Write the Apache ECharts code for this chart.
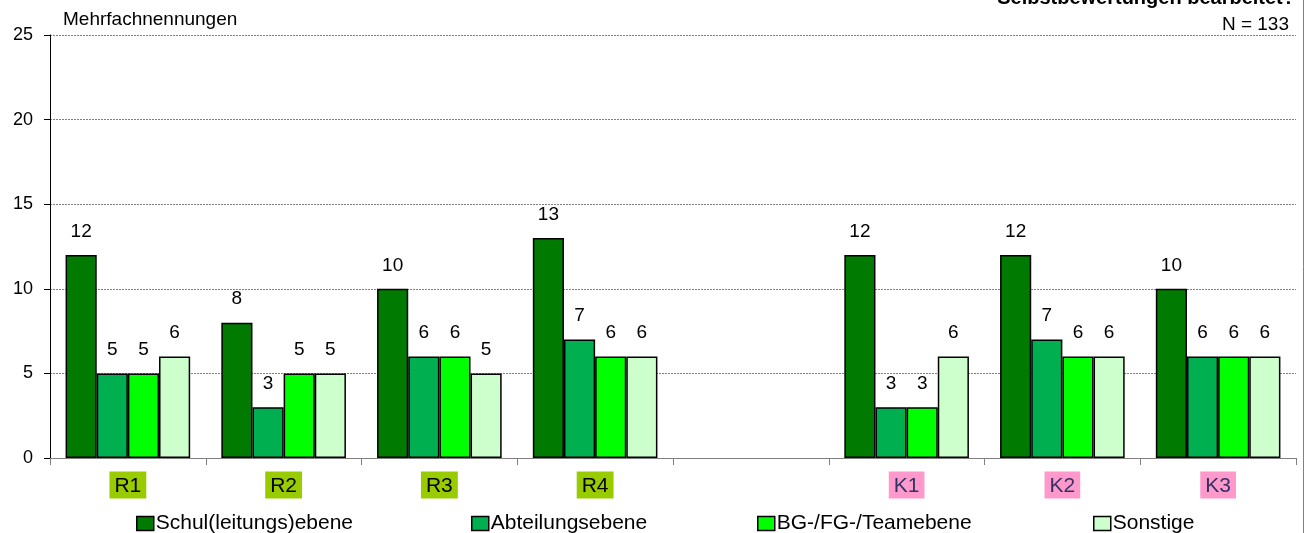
<!DOCTYPE html>
<html>
<head>
<meta charset="utf-8">
<script src="https://cdn.jsdelivr.net/npm/echarts@6/dist/echarts.min.js"></script>
<style>
  html, body { margin: 0; padding: 0; background: #fff; }
  #chart { width: 1305px; height: 533px; }
</style>
</head>
<body>
<div id="chart"></div>
<script>
// Categories along the x axis (one empty slot separates the R and K groups)
const categories = ['R1', 'R2', 'R3', 'R4', '', 'K1', 'K2', 'K3'];

// Number of mentions per level (multiple answers possible)
const schulleitung = [12, 8, 10, 13, null, 12, 12, 10];
const abteilung    = [5, 3, 6, 7, null, 3, 7, 6];
const teamebene    = [5, 5, 6, 6, null, 3, 6, 6];
const sonstige     = [6, 5, 5, 6, null, 6, 6, 6];

const seriesNames = ['Schul(leitungs)ebene', 'Abteilungsebene', 'BG-/FG-/Teamebene', 'Sonstige'];
const seriesColors = ['#007A00', '#00B050', '#00FF00', '#CCFFCC'];
const seriesData = [schulleitung, abteilung, teamebene, sonstige];

// Y axis ticks
const yTicks = [0, 5, 10, 15, 20, 25];

const FONT = '"Liberation Sans", Arial, sans-serif';

const chart = echarts.init(document.getElementById('chart'), null, { renderer: 'canvas' });

const series = seriesNames.map((name, i) => ({
  name: name,
  type: 'bar',
  data: seriesData[i],
  barGap: '0%',
  barCategoryGap: '20%',
  itemStyle: { color: seriesColors[i], borderColor: '#000', borderWidth: 1.5 },
  label: {
    show: true,
    position: 'top',
    distance: 14,
    color: '#000',
    fontFamily: FONT,
    fontSize: 19
  },
  emphasis: { disabled: true },
  animation: false
}));

// one legend block per series, placed along the bottom row
const legendLefts = [136, 471, 757, 1093];
const legends = seriesNames.map((name, i) => ({
  data: [name],
  left: legendLefts[i],
  top: 513,
  padding: 0,
  orient: 'horizontal',
  icon: 'rect',
  itemWidth: 17,
  itemHeight: 14,
  itemStyle: { borderColor: '#000', borderWidth: 1.5 },
  textStyle: { fontFamily: FONT, fontSize: 21, color: '#000', padding: [0, 0, 0, -3] },
  selectedMode: false
}));

const option = {
  backgroundColor: '#fff',
  animation: false,
  textStyle: { fontFamily: FONT },
  grid: { left: 50, right: 9, top: 35, bottom: 75, containLabel: false },
  legend: legends,
  xAxis: {
    type: 'category',
    data: categories,
    boundaryGap: true,
    axisLine: { show: true, lineStyle: { color: '#808080', width: 1 } },
    axisTick: { show: true, alignWithLabel: false, length: 7, lineStyle: { color: '#808080' } },
    axisLabel: {
      margin: 15,
      interval: 0,
      formatter: function (v) {
        if (!v) return '';
        return v.charAt(0) === 'R' ? '{r|' + v + '}' : '{k|' + v + '}';
      },
      rich: {
        r: {
          fontFamily: FONT, fontSize: 21, lineHeight: 24, color: '#000',
          backgroundColor: '#99CC00', padding: [4, 5, 2, 5]
        },
        k: {
          fontFamily: FONT, fontSize: 21, lineHeight: 24, color: '#333366',
          backgroundColor: '#FF99CC', padding: [4, 5, 2, 5]
        }
      }
    },
    splitLine: { show: false }
  },
  yAxis: {
    type: 'value',
    min: yTicks[0],
    max: yTicks[yTicks.length - 1],
    interval: 5,
    axisLine: { show: true, lineStyle: { color: '#000', width: 1 } },
    axisTick: { show: true, inside: false, length: 6, lineStyle: { color: '#000' } },
    axisLabel: { margin: 17, color: '#000', fontFamily: FONT, fontSize: 18 },
    splitLine: { show: true, lineStyle: { color: '#808080', type: [2, 1], width: 1 } }
  },
  series: series,
  graphic: [
    {
      type: 'text', left: 63, top: 10,
      style: { text: 'Mehrfachnennungen', fontFamily: FONT, fontSize: 19, fill: '#000' }
    },
    {
      type: 'text', right: 16, top: 15,
      style: { text: 'N = 133', fontFamily: FONT, fontSize: 19, fill: '#000' }
    },
    {
      type: 'text', right: 10, top: -12,
      style: { text: 'Selbstbewertungen bearbeitet?', fontFamily: FONT, fontSize: 20, fontWeight: 'bold', fill: '#000' }
    },
    {
      type: 'line', shape: { x1: 1303.5, y1: 0, x2: 1303.5, y2: 533 },
      style: { stroke: '#808080', lineWidth: 1 }
    }
  ]
};

chart.setOption(option);
</script>
</body>
</html>
